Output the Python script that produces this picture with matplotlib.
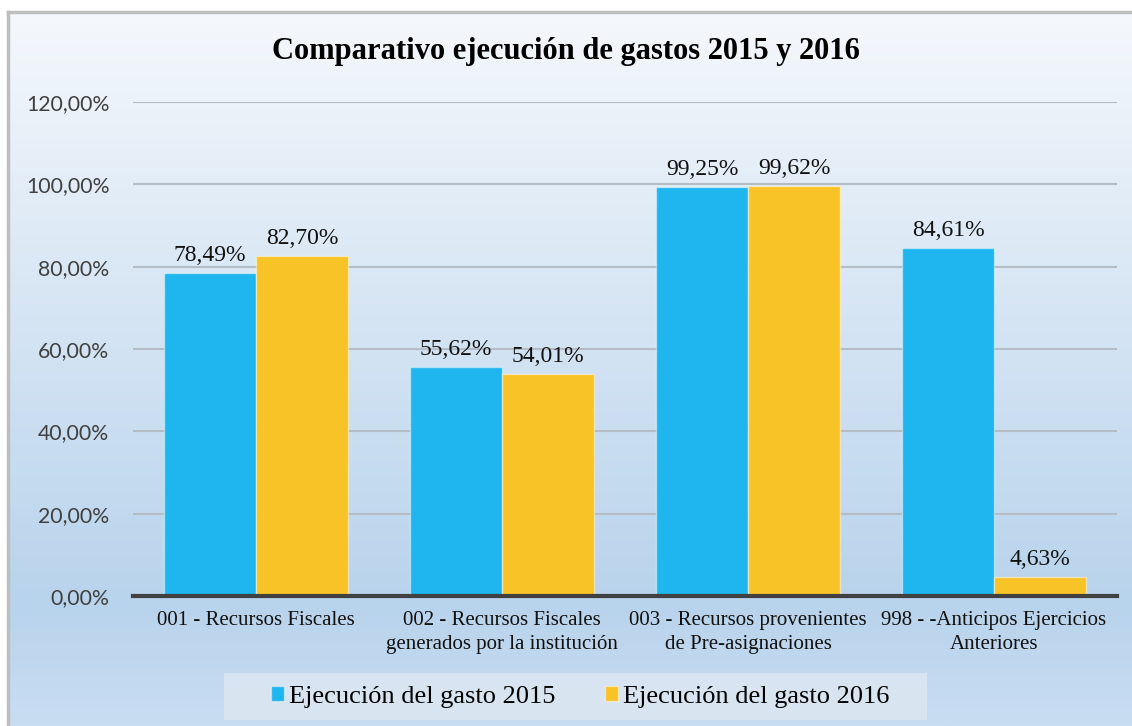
import matplotlib.pyplot as plt
import numpy as np
from matplotlib.colors import LinearSegmentedColormap
from matplotlib.patches import Rectangle

# porcentajes de ejecución por fuente de financiamiento
categorias = ["001 - Recursos Fiscales",
              "002 - Recursos Fiscales\ngenerados por la institución",
              "003 - Recursos provenientes\nde Pre-asignaciones",
              "998 - -Anticipos Ejercicios\nAnteriores"]
gasto_2015 = [78.49, 55.62, 99.25, 84.61]
gasto_2016 = [82.70, 54.01, 99.62, 4.63]
serie_2015 = "Ejecución del gasto 2015"
serie_2016 = "Ejecución del gasto 2016"
y_ticks = [0, 20, 40, 60, 80, 100, 120]

azul = "#1FB5EE"
amarillo = "#F8C326"
serif = "Liberation Serif"

fig = plt.figure(figsize=(11.32, 7.26), dpi=100)
fig.patch.set_facecolor("white")

# fondo con degradado
W, H = 1132, 726
bg = fig.add_axes([8 / W, 0, 1 - 8 / W, 1 - 12 / H])
cmap = LinearSegmentedColormap.from_list(
    "fondo", [(0, "#F5F8FC"), (0.83, "#B8D3EC"), (1, "#C9DDF2")])
grad = np.linspace(0, 1, 256).reshape(-1, 1)
bg.imshow(grad, aspect="auto", cmap=cmap, extent=[0, 1, 0, 1], origin="upper")
bg.set_xlim(0, 1)
bg.set_ylim(0, 1)
bg.axis("off")
bg.plot([0, 0], [0, 1], color="#BEBEBE", lw=2.5, transform=bg.transAxes, clip_on=False)
bg.plot([0, 1], [1, 1], color="#BEBEBE", lw=2.5, transform=bg.transAxes, clip_on=False)

ax = fig.add_axes([133 / W, 1 - 596 / H, (1117 - 133) / W, (596 - 102) / H])
ax.patch.set_alpha(0)

x = np.arange(len(categorias))
ancho = 0.374
b1 = ax.bar(x - ancho / 2, gasto_2015, ancho, color=azul,
            edgecolor=(1, 1, 1, 0.45), linewidth=1, label=serie_2015, zorder=3)
b2 = ax.bar(x + ancho / 2, gasto_2016, ancho, color=amarillo,
            edgecolor=(1, 1, 1, 0.45), linewidth=1, label=serie_2016, zorder=3)

def pct(v):
    return f"{v:.2f}%".replace(".", ",")

for barras in (b1, b2):
    for b in barras:
        v = b.get_height()
        ax.annotate(pct(v), (b.get_x() + b.get_width() / 2, v),
                    xytext=(0, 5), textcoords="offset points",
                    ha="center", va="bottom", family=serif, fontsize=17,
                    color="#111111")

ax.set_ylim(0, 120)
ax.set_xlim(-0.5, len(categorias) - 0.5)
ax.set_yticks(y_ticks)
ax.set_yticklabels([pct(v) for v in y_ticks], family="Lato", fontsize=15.3,
                   color="#404040")
ax.set_xticks(x)
ax.set_xticklabels(categorias, family=serif, fontsize=15, color="#111111",
                   linespacing=1.35)
ax.tick_params(axis="both", length=0)
ax.tick_params(axis="y", pad=17)
ax.tick_params(axis="x", pad=11)
ax.yaxis.grid(True, color="#B4BCC6", linewidth=1.5, zorder=0)
for s in ("top", "right", "left"):
    ax.spines[s].set_visible(False)
ax.spines["bottom"].set_color("#404040")
ax.spines["bottom"].set_linewidth(3)
ax.spines["bottom"].set_zorder(4)

fig.text(566 / W, 1 - 51 / H, "Comparativo ejecución de gastos 2015 y 2016",
         ha="center", va="center", family=serif, fontsize=22,
         fontweight="bold", color="#000000")

# leyenda
fig.patches.append(Rectangle((224 / W, 1 - 720 / H), (927 - 224) / W, 47 / H,
                             transform=fig.transFigure, facecolor="#DCE7F2",
                             edgecolor="none", alpha=0.85, zorder=1))
leg = fig.legend(handles=[b1, b2], loc="center", bbox_to_anchor=(580 / W, 1 - 697 / H),
                 ncol=2, frameon=False, prop={"family": serif, "size": 19},
                 handlelength=0.49, handleheight=0.49, handletextpad=0.19,
                 columnspacing=1.9)

fig.savefig("out.png", dpi=100)
